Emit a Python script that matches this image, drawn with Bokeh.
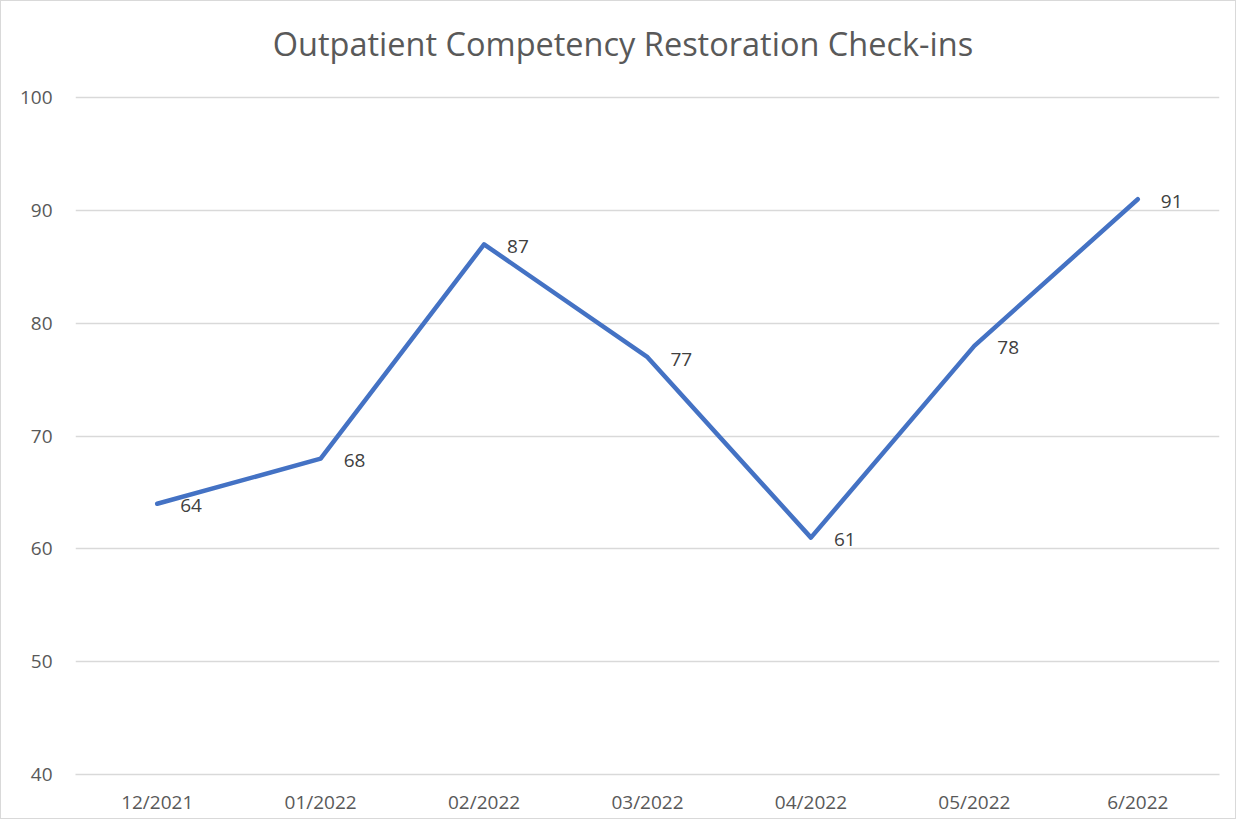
from bokeh.plotting import figure
from bokeh.models import ColumnDataSource, Range1d, FactorRange, FixedTicker, LabelSet, Label
from bokeh.embed import file_html
from bokeh.resources import INLINE
from bokeh.core.properties import value

months = ["12/2021", "01/2022", "02/2022", "03/2022", "04/2022", "05/2022", "6/2022"]
checkins = [64, 68, 87, 77, 61, 78, 91]
y_ticks = [40, 50, 60, 70, 80, 90, 100]
title_text = "Outpatient Competency Restoration Check-ins"

FONT = "Open Sans"

src = ColumnDataSource(dict(x=months, y=checkins, lbl=[str(v) for v in checkins]))

# y range extends above 100 so the title sits inside the (invisible) frame area
p = figure(width=1236, height=819, output_backend="svg", toolbar_location=None,
           x_range=FactorRange(*months, range_padding=0), y_range=Range1d(40, 108.53),
           min_border_left=74, min_border_right=18, min_border_top=0, min_border_bottom=46)
p.styles = {"border": "1px solid #d9d9d9", "box-sizing": "border-box"}
p.outline_line_color = None
p.background_fill_color = "white"
p.border_fill_color = "white"
p.title.visible = False

title = Label(x=3.35, y=104.85, text=title_text,
              text_align="center", text_baseline="middle", text_font=FONT,
              text_font_size="32.5px", text_color="#595959")
p.add_layout(title)

p.line("x", "y", source=src, line_color="#4472C4", line_width=4.5, line_join="round", line_cap="round")

labels = LabelSet(x="x", y="y", text="lbl", source=src, x_offset=23, y_offset=-2,
                  text_align="left", text_baseline="middle", text_font=value(FONT),
                  text_font_size="19px", text_color="#404040")
p.add_layout(labels)

p.yaxis.ticker = FixedTicker(ticks=y_ticks)
p.yaxis.axis_line_color = None
p.yaxis.major_tick_line_color = None
p.yaxis.minor_tick_line_color = None
p.yaxis.major_label_standoff = 17
p.yaxis.major_label_text_font = FONT
p.yaxis.major_label_text_font_size = "19px"
p.yaxis.major_label_text_color = "#595959"

p.xaxis.axis_line_color = "#d9d9d9"
p.xaxis.axis_line_width = 1.5
p.xaxis.major_tick_line_color = None
p.xaxis.minor_tick_line_color = None
p.xaxis.major_label_standoff = 8
p.xaxis.major_label_text_font = FONT
p.xaxis.major_label_text_font_size = "19px"
p.xaxis.major_label_text_color = "#595959"

p.xgrid.grid_line_color = None
p.ygrid.ticker = FixedTicker(ticks=y_ticks)
p.ygrid.grid_line_color = "#d9d9d9"
p.ygrid.grid_line_width = 1.5

open("out.html", "w").write(file_html(p, INLINE))
